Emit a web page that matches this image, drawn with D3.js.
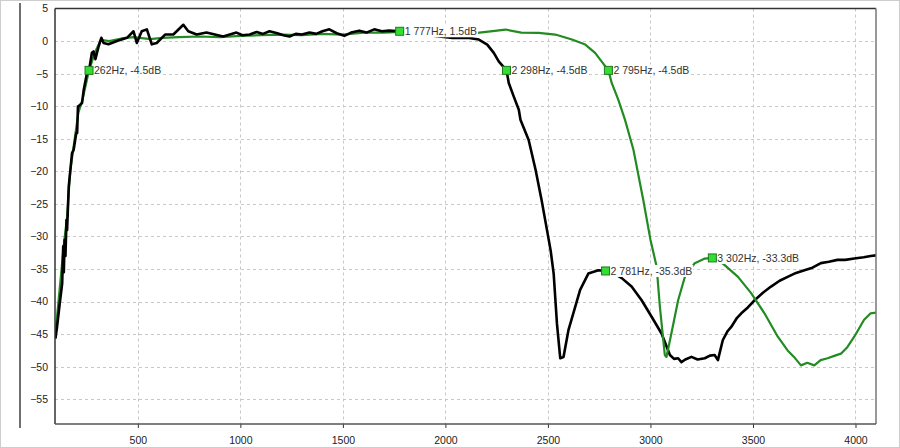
<!DOCTYPE html>
<html><head><meta charset="utf-8">
<script src="https://cdn.jsdelivr.net/npm/d3@7"></script>
<style>
html,body{margin:0;padding:0;background:#fff;}
svg{display:block;}
</style></head>
<body>
<svg id="c" width="900" height="448"></svg>
<script>
// ---- data (Hz, dB) ----
const blackHz = [98,106,119,126,131,136,139,143,147,152,155,163,171,179,187,200,204,208,211,228,236,255,262,276,284,293,301,309,322,333,357,398,447,479,495,519,544,568,592,633,673,722,746,787,835,916,981,1010,1046,1080,1110,1142,1180,1210,1240,1270,1300,1337,1370,1400,1434,1470,1507,1540,1580,1615,1653,1690,1726,1777,1850,1950,2034,2115,2163,2204,2236,2260,2298,2309,2333,2358,2366,2406,2440,2469,2513,2528,2544,2560,2576,2600,2633,2657,2697,2746,2781,2819,2860,2908,2957,3005,3054,3095,3115,3135,3151,3170,3200,3230,3265,3290,3313,3329,3353,3375,3394,3420,3443,3475,3508,3550,3588,3630,3669,3710,3751,3790,3831,3870,3912,3950,3994,4040,4074,4100];
const blackDb = [-45.7,-43.9,-40.3,-38.5,-37.2,-31.5,-35.5,-30.5,-33,-27.5,-29,-22.3,-19.8,-17.2,-16.7,-14.1,-14.1,-10,-10,-9.5,-7.5,-4.4,-4.5,-1.8,-1.6,-2.8,-1.8,-0.8,0.5,-0.3,-0.5,0,0.5,1.5,-0.3,1.5,1.8,-0.5,-0.3,1.0,1.0,2.5,1.5,1.0,1.3,0.7,1.3,0.9,1.0,1.4,1.1,1.5,1.2,0.9,0.7,1.1,1.0,1.3,1.1,1.5,1.8,1.2,0.8,1.3,1.6,1.3,1.8,1.5,1.6,1.5,1.3,0.8,0.49,0.49,0.23,-0.54,-1.82,-3.11,-4.5,-6.43,-8.49,-10.54,-12.08,-15.2,-19.8,-24.4,-32.1,-35.7,-43.4,-48.7,-48.5,-44.4,-40.8,-38.2,-35.7,-35.2,-35.3,-35.6,-36.4,-37.7,-39.8,-42.3,-44.9,-48.2,-48.8,-48.7,-49.3,-48.9,-48.5,-48.9,-48.7,-48.3,-48.2,-49,-45.9,-44.6,-43.9,-42.6,-41.8,-40.9,-39.8,-38.6,-37.7,-36.8,-36.2,-35.6,-35.2,-34.8,-34.1,-33.9,-33.6,-33.6,-33.4,-33.2,-33.0,-32.9];

const greenHz = [98,110,125,140,155,170,190,210,230,262,290,320,360,420,480,560,620,700,800,900,1000,1100,1200,1300,1400,1500,1600,1700,1777,1900,2000,2100,2155,2220,2293,2370,2455,2536,2617,2682,2730,2795,2811,2843,2876,2917,2965,3000,3030,3046,3070,3078,3102,3135,3168,3216,3265,3302,3329,3362,3427,3491,3556,3621,3669,3700,3734,3765,3799,3830,3864,3900,3929,3960,3994,4042,4074,4100];
const greenDb = [-45,-41,-36,-31,-27,-20,-15.5,-11,-9,-4.5,-1.8,0.2,0,0.4,0.6,0.3,0.5,0.6,0.7,0.6,0.8,0.9,1.0,0.9,1.1,1.0,1.3,1.3,1.4,1.3,1.2,1.3,1.26,1.5,1.77,1.3,1.26,1.0,0.23,-0.54,-1.82,-4.5,-6.43,-9.0,-12.1,-16.7,-24.4,-30.5,-34.6,-40.8,-48.2,-48.5,-44.9,-39.8,-36.2,-34.1,-33.4,-33.3,-33.6,-34.4,-36.2,-38.7,-41.8,-45.4,-47.5,-48.5,-49.8,-49.4,-49.8,-49.0,-48.7,-48.3,-48.0,-47.0,-45.4,-42.8,-41.8,-41.7];

const markerHz = [262,1777,2298,2795,2781,3302];
const markerDb = [-4.5,1.5,-4.5,-4.5,-35.3,-33.3];
const markerText = ["262Hz, -4.5dB","1 777Hz, 1.5dB","2 298Hz, -4.5dB","2 795Hz, -4.5dB","2 781Hz, -35.3dB","3 302Hz, -33.3dB"];

const xTicks = [500,1000,1500,2000,2500,3000,3500,4000];
const yTicks = [5,0,-5,-10,-15,-20,-25,-30,-35,-40,-45,-50,-55];

// ---- layout ----
const svg = d3.select("#c");
const L = 55, R = 876, T = 8.5, B = 424;
const x = d3.scaleLinear().domain([96, 4100]).range([L, R]);
const y = d3.scaleLinear().domain([-58.8, 5]).range([B, T]);
const FONT = "'Liberation Sans', Arial, sans-serif";
const FS = "10.5px";

// outer dotted border
svg.append("rect").attr("x",0.5).attr("y",0.5).attr("width",899).attr("height",447)
  .attr("fill","none").attr("stroke","#9a9a9a").attr("stroke-dasharray","1,1");
// left vertical bar
svg.append("line").attr("x1",20).attr("x2",20).attr("y1",3).attr("y2",428)
  .attr("stroke","#707070").attr("stroke-width",2);

// grid
const g = svg.append("g");
g.selectAll(".gx").data(xTicks).join("line")
  .attr("x1",d=>Math.round(x(d))+0.5).attr("x2",d=>Math.round(x(d))+0.5)
  .attr("y1",T).attr("y2",B)
  .attr("stroke","#c8c8c8").attr("stroke-dasharray","3,3");
g.selectAll(".gy").data(yTicks.filter(d=>d<5)).join("line")
  .attr("x1",L).attr("x2",R)
  .attr("y1",d=>Math.round(y(d))+0.5).attr("y2",d=>Math.round(y(d))+0.5)
  .attr("stroke","#c8c8c8").attr("stroke-dasharray","3,3");

// axes via d3
const xAxis = d3.axisBottom(x).tickValues(xTicks).tickSize(4).tickPadding(9).tickFormat(d3.format("d"));
const xa = svg.append("g").attr("transform",`translate(0,${B})`).call(xAxis);
xa.select(".domain").remove();
xa.selectAll("line").attr("stroke","#333");
xa.selectAll("text").attr("font-family",FONT).attr("font-size",FS).attr("fill","#222");

const yAxis = d3.axisLeft(y).tickValues(yTicks).tickSize(0).tickPadding(7).tickFormat(d3.format("d"));
const ya = svg.append("g").attr("transform",`translate(${L},0)`).call(yAxis);
ya.select(".domain").remove();
ya.selectAll("text").attr("font-family",FONT).attr("font-size",FS).attr("fill","#222");

// clip
svg.append("clipPath").attr("id","clip").append("rect")
  .attr("x",L).attr("y",T).attr("width",R-L).attr("height",B-T);

const line = d3.line().x(d=>x(d[0])).y(d=>y(d[1]));
const blackData = blackHz.map((h,i)=>[h,blackDb[i]]);
const greenData = greenHz.map((h,i)=>[h,greenDb[i]]);
const plot = svg.append("g").attr("clip-path","url(#clip)");

function drawMarker(i, parent){
  const mx = x(markerHz[i]), my = y(markerDb[i]);
  const grp = parent.append("g");
  const t = grp.append("text").attr("x",mx+5).attr("y",my+4)
    .attr("font-family",FONT).attr("font-size",FS).attr("fill","#333")
    .text(markerText[i]);
  const bb = t.node().getBBox();
  grp.insert("rect","text").attr("x",bb.x-1).attr("y",bb.y).attr("width",bb.width+2).attr("height",bb.height)
    .attr("fill","#fff");
  grp.append("rect").attr("x",mx-4).attr("y",my-4).attr("width",8).attr("height",8)
    .attr("fill","#33dd33").attr("stroke","#1f7a1f").attr("stroke-width",1);
}

// green underneath on left part (black drawn above)
plot.append("path").datum(greenData.filter(d=>d[0]<=2100)).attr("d",line)
  .attr("fill","none").attr("stroke","#228b22").attr("stroke-width",2.2).attr("stroke-linejoin","round");
plot.append("path").datum(blackData).attr("d",line)
  .attr("fill","none").attr("stroke","#000").attr("stroke-width",2.6).attr("stroke-linejoin","round");
// black label 2781 before the green right part
drawMarker(4, svg);
plot.append("path").datum(greenData.filter(d=>d[0]>=2100)).attr("d",line)
  .attr("fill","none").attr("stroke","#228b22").attr("stroke-width",2.2).attr("stroke-linejoin","round");
[0,1,2,3,5].forEach(i=>drawMarker(i, svg));

// plot frame
svg.append("line").attr("x1",L).attr("x2",R).attr("y1",T).attr("y2",T).attr("stroke","#333").attr("stroke-width",1.5);
svg.append("line").attr("x1",L).attr("x2",L).attr("y1",T).attr("y2",B).attr("stroke","#333").attr("stroke-width",1.5);
svg.append("line").attr("x1",R).attr("x2",R).attr("y1",T).attr("y2",B).attr("stroke","#777").attr("stroke-width",1.5);
svg.append("line").attr("x1",L).attr("x2",R).attr("y1",B).attr("y2",B).attr("stroke","#555").attr("stroke-width",1.5);
</script>
</body></html>
